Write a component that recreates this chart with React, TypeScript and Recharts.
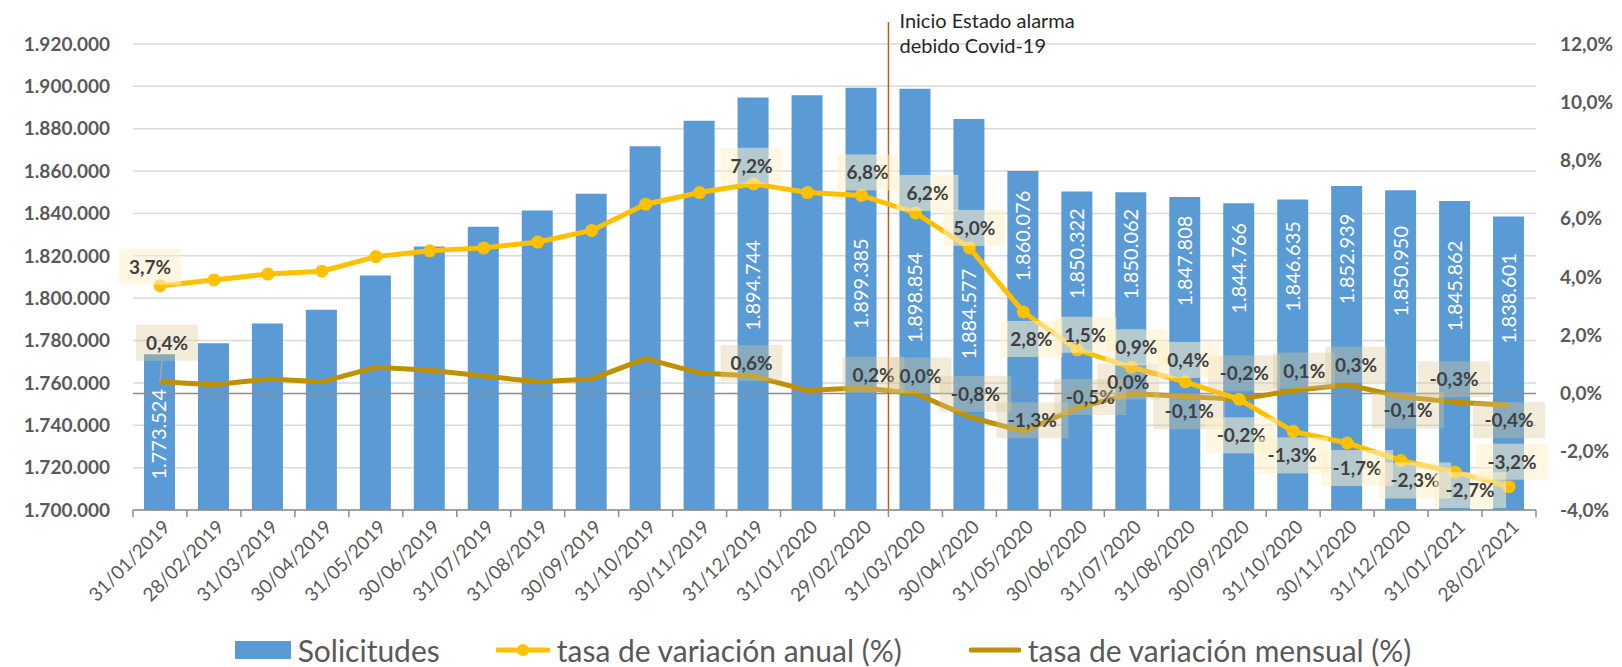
import React from 'react'
import {
  ComposedChart,
  Bar,
  Line,
  XAxis,
  YAxis,
  CartesianGrid,
  ReferenceLine,
  LabelList,
  Legend,
} from 'recharts'

// ---- datos ----
const meses = [
  '31/01/2019', '28/02/2019', '31/03/2019', '30/04/2019', '31/05/2019', '30/06/2019',
  '31/07/2019', '31/08/2019', '30/09/2019', '31/10/2019', '30/11/2019', '31/12/2019',
  '31/01/2020', '29/02/2020', '31/03/2020', '30/04/2020', '31/05/2020', '30/06/2020',
  '31/07/2020', '31/08/2020', '30/09/2020', '31/10/2020', '30/11/2020', '31/12/2020',
  '31/01/2021', '28/02/2021',
]

const solicitudes = [
  1773524, 1778700, 1788100, 1794500, 1810700, 1824400,
  1833700, 1841400, 1849300, 1871700, 1883800, 1894744,
  1895800, 1899385, 1898854, 1884577, 1860076, 1850322,
  1850062, 1847808, 1844766, 1846635, 1852939, 1850950,
  1845862, 1838601,
]

const tasaAnual = [
  3.7, 3.9, 4.1, 4.2, 4.7, 4.9, 5.0, 5.2, 5.6, 6.5, 6.9, 7.2, 6.9,
  6.8, 6.2, 5.0, 2.8, 1.5, 0.9, 0.4, -0.2, -1.3, -1.7, -2.3, -2.7, -3.2,
]

const tasaMensual = [
  0.4, 0.3, 0.5, 0.4, 0.9, 0.8, 0.6, 0.4, 0.5, 1.2, 0.7, 0.6, 0.1,
  0.2, 0.0, -0.8, -1.3, -0.5, 0.0, -0.1, -0.2, 0.1, 0.3, -0.1, -0.3, -0.4,
]

const ticksIzq = [
  1700000, 1720000, 1740000, 1760000, 1780000, 1800000,
  1820000, 1840000, 1860000, 1880000, 1900000, 1920000,
]
const ticksDer = [-4, -2, 0, 2, 4, 6, 8, 10, 12]

// meses con etiqueta de valor
const conEtiqueta = [0, 11, 13, 14, 15, 16, 17, 18, 19, 20, 21, 22, 23, 24, 25]

const data = meses.map((mes, i) => ({
  mes,
  solicitudes: solicitudes[i],
  anual: tasaAnual[i],
  mensual: tasaMensual[i],
}))

// ---- estilos / layout ----
const FONT = 'Lato, "Open Sans", sans-serif'
const GRIS = '#595959'
const AZUL = '#5B9BD5'
const AMARILLO = '#FFC000'
const DORADO = '#BF9000'
const PLOT_LEFT = 133
const PLOT_RIGHT = 1536
const BAND = (PLOT_RIGHT - PLOT_LEFT) / meses.length

const miles = (v: number) => String(Math.round(v)).replace(/\B(?=(\d{3})+(?!\d))/g, '.')
const pct = (v: number) => v.toFixed(1).replace('.', ',') + '%'

// desplazamientos manuales de las etiquetas (colocadas a mano en el original)
const despAnual: Record<number, [number, number]> = {
  0: [-10, -19], 11: [-2, -18], 13: [6, -23], 14: [12, -20], 15: [5, -20],
  16: [8, 27], 17: [8, -15], 18: [5, -20], 19: [3, -22], 20: [2, 36],
  21: [-1, 24], 22: [10, 25], 23: [14, 20], 24: [15, 18], 25: [3, -25],
}
const despMensual: Record<number, [number, number]> = {
  0: [7, -39], 11: [-2, -13], 13: [12, -13], 14: [5, -18], 15: [6, -23],
  16: [9, -11], 17: [13, -11], 18: [-3, -12], 19: [4, 15], 20: [5, -26],
  21: [11, -20], 22: [9, -20], 23: [7, 14], 24: [-1, -23], 25: [0, 15],
}
// centro del texto de cada barra, medido desde su parte superior
const despBarra: Record<number, number> = {
  0: 80, 11: 188, 13: 196, 14: 209, 15: 195, 16: 65, 17: 62, 18: 62,
  19: 64, 20: 65, 21: 67, 22: 73, 23: 81, 24: 85, 25: 82,
}

const idxDe = (props: any) =>
  typeof props.index === 'number'
    ? props.index
    : Math.round((props.x - PLOT_LEFT) / BAND - 0.5)

function etiquetaTasa(desp: Record<number, [number, number]>, fondo: string) {
  return (props: any) => {
    const i = idxDe(props)
    if (!conEtiqueta.includes(i) || props.value == null) return null
    const [dx, dy] = desp[i] || [0, -20]
    const cx = props.x + dx
    const cy = props.y + dy
    const s = pct(props.value)
    const w = s.length * 10 + 22
    const h = 36
    return (
      <g>
        {i === 0 && dy < -30 && (
          <line x1={props.x} y1={props.y} x2={cx - 5} y2={cy + h / 2} stroke="#A6A6A6" strokeWidth={1.5} />
        )}
        <rect x={cx - w / 2} y={cy - h / 2} width={w} height={h} fill={fondo} />
        <text
          x={cx}
          y={cy}
          dy={7}
          textAnchor="middle"
          fontSize={19}
          fontWeight={700}
          fill="#404040"
          fontFamily={FONT}
        >
          {s}
        </text>
      </g>
    )
  }
}

function EtiquetaBarra(props: any) {
  const i = idxDe(props)
  if (!conEtiqueta.includes(i)) return null
  const cx = props.x + props.width / 2
  const cy = props.y + (despBarra[i] ?? props.height / 2)
  return (
    <text
      x={cx}
      y={cy}
      dy={7}
      transform={`rotate(-90, ${cx}, ${cy})`}
      textAnchor="middle"
      fontSize={20}
      fill="#FFFFFF"
      fontFamily={FONT}
    >
      {miles(props.value)}
    </text>
  )
}

function TickMes(props: any) {
  const { x, y, payload, index } = props
  const left = x - BAND / 2
  return (
    <g>
      <line x1={left} y1={y} x2={left} y2={y + 7} stroke="#8C8C8C" strokeWidth={1.5} />
      {index === meses.length - 1 && (
        <line x1={x + BAND / 2} y1={y} x2={x + BAND / 2} y2={y + 7} stroke="#8C8C8C" strokeWidth={1.5} />
      )}
      <text
        x={x + 7}
        y={y + 14}
        transform={`rotate(-45, ${x + 7}, ${y + 14})`}
        textAnchor="end"
        dy={6}
        fontSize={19}
        fill={GRIS}
        fontFamily={FONT}
      >
        {payload.value}
      </text>
    </g>
  )
}

function NotaCovid(props: any) {
  const { x, y } = props.viewBox || {}
  if (x == null) return null
  return (
    <g>
      <line x1={x} y1={y - 22} x2={x} y2={y} stroke="#C55A11" strokeWidth={1.5} />
      <text fontSize={20} fill="#262626" fontFamily={FONT}>
        <tspan x={x + 11} y={28}>Inicio Estado alarma</tspan>
        <tspan x={x + 11} y={53}>debido Covid-19</tspan>
      </text>
    </g>
  )
}

function Leyenda() {
  const item = { display: 'flex', alignItems: 'center', gap: 7 } as const
  const txt = { fontSize: 30, color: GRIS, fontFamily: FONT, lineHeight: '34px' } as const
  return (
    <div
      style={{
        boxSizing: 'border-box',
        height: 54,
        paddingTop: 20,
        paddingLeft: 24,
        display: 'flex',
        justifyContent: 'center',
        alignItems: 'center',
      }}
    >
      <div style={item}>
        <svg width={56} height={20}>
          <rect x={0} y={1} width={56} height={18} fill={AZUL} />
        </svg>
        <span style={txt}>Solicitudes</span>
      </div>
      <div style={{ ...item, marginLeft: 56 }}>
        <svg width={54} height={20}>
          <line x1={2} y1={10} x2={52} y2={10} stroke={AMARILLO} strokeWidth={5} strokeLinecap="round" />
          <circle cx={27} cy={10} r={6} fill={AMARILLO} />
        </svg>
        <span style={txt}>tasa de variación anual (%)</span>
      </div>
      <div style={{ ...item, marginLeft: 67 }}>
        <svg width={52} height={20}>
          <line x1={2} y1={10} x2={50} y2={10} stroke={DORADO} strokeWidth={5} strokeLinecap="round" />
        </svg>
        <span style={txt}>tasa de variación mensual (%)</span>
      </div>
    </div>
  )
}

export default function App() {
  return (
    <div style={{ position: 'absolute', left: 0, top: 0, width: 1622, height: 667, background: '#fff', fontFamily: FONT }}>
      <ComposedChart
        width={1622}
        height={667}
        data={data}
        margin={{ top: 44, right: 0, bottom: 0, left: 0 }}
        barCategoryGap={0}
      >
        <CartesianGrid yAxisId="izq" vertical={false} stroke="#D9D9D9" strokeWidth={1.5} />
        <XAxis
          dataKey="mes"
          interval={0}
          height={103}
          tick={<TickMes />}
          tickLine={false}
          tickSize={0}
          tickMargin={0}
          axisLine={{ stroke: '#8C8C8C', strokeWidth: 1.5 }}
        />
        <YAxis
          yAxisId="izq"
          domain={[1700000, 1920000]}
          ticks={ticksIzq}
          tickFormatter={miles}
          width={133}
          axisLine={false}
          tickLine={false}
          tickSize={0}
          tickMargin={23}
          tick={{ fontSize: 19, fontWeight: 700, fill: GRIS, fontFamily: FONT }}
          allowDataOverflow
        />
        <YAxis
          yAxisId="der"
          orientation="right"
          domain={[-4, 12]}
          ticks={ticksDer}
          tickFormatter={(v: number) => pct(v)}
          width={86}
          axisLine={false}
          tickLine={false}
          tickSize={0}
          tickMargin={24}
          tick={{ fontSize: 19, fontWeight: 700, fill: GRIS, fontFamily: FONT }}
        />
        <Legend verticalAlign="bottom" content={() => <Leyenda />} />
        <Bar yAxisId="izq" dataKey="solicitudes" name="Solicitudes" fill={AZUL} barSize={31} isAnimationActive={false}>
          <LabelList dataKey="solicitudes" content={<EtiquetaBarra />} />
        </Bar>
        <ReferenceLine yAxisId="der" y={0} stroke="#8C8C8C" strokeWidth={1.5} />
        <ReferenceLine
          yAxisId="izq"
          x="31/03/2020"
          position="start"
          stroke="#C55A11"
          strokeWidth={1.5}
          label={<NotaCovid />}
        />
        <Line
          yAxisId="der"
          dataKey="mensual"
          name="tasa de variación mensual (%)"
          stroke={DORADO}
          strokeWidth={5}
          dot={false}
          activeDot={false}
          isAnimationActive={false}
        />
        <Line
          yAxisId="der"
          dataKey="anual"
          name="tasa de variación anual (%)"
          stroke={AMARILLO}
          strokeWidth={5}
          dot={{ r: 6.5, fill: AMARILLO, stroke: AMARILLO, strokeWidth: 0 }}
          activeDot={false}
          isAnimationActive={false}
        />
        {/* capas solo de etiquetas, por encima de ambas líneas */}
        <Line
          yAxisId="der"
          dataKey="mensual"
          stroke="none"
          dot={false}
          activeDot={false}
          legendType="none"
          isAnimationActive={false}
        >
          <LabelList dataKey="mensual" content={etiquetaTasa(despMensual, 'rgba(220, 200, 150, 0.36)')} />
        </Line>
        <Line
          yAxisId="der"
          dataKey="anual"
          stroke="none"
          dot={false}
          activeDot={false}
          legendType="none"
          isAnimationActive={false}
        >
          <LabelList dataKey="anual" content={etiquetaTasa(despAnual, 'rgba(255, 240, 200, 0.55)')} />
        </Line>
      </ComposedChart>
    </div>
  )
}
